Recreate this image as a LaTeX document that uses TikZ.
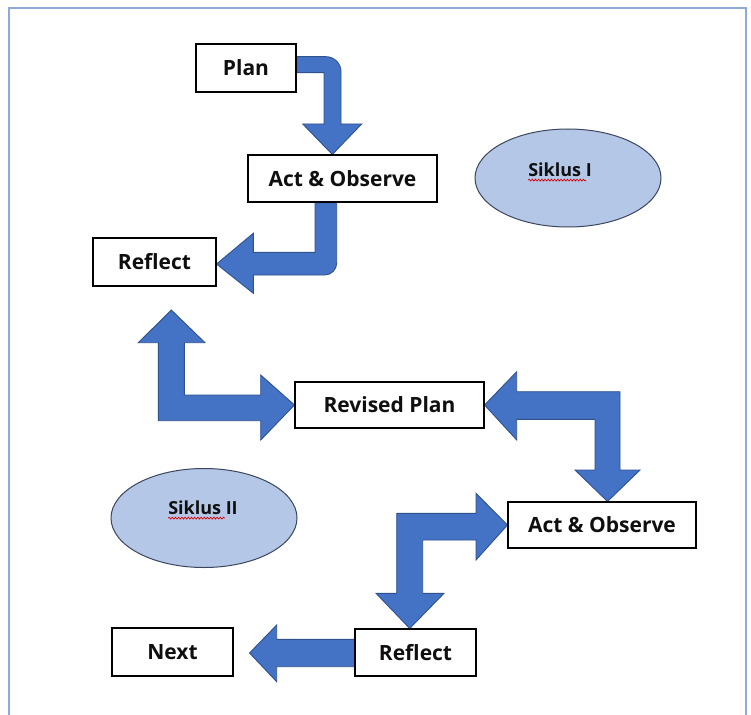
\documentclass[tikz,border=0pt]{standalone}
\usepackage{fontspec}
\setmainfont{Open Sans}
\usetikzlibrary{backgrounds,decorations.pathmorphing,calc,shapes.geometric}
\definecolor{arrowfill}{RGB}{68,114,196}
\definecolor{arrowline}{RGB}{47,82,143}
\definecolor{ellfill}{RGB}{180,199,231}
\definecolor{ellline}{RGB}{60,70,95}
\definecolor{frameblue}{RGB}{142,169,219}
\definecolor{txt}{RGB}{15,15,15}
\tikzset{
  stepbox/.style={draw=black, line width=1.1pt, fill=white, inner sep=0pt,
    font=\fontsize{21}{24}\selectfont\bfseries, text=txt},
  cyclebox/.style={ellipse, draw=ellline, line width=1pt, fill=ellfill, inner sep=0pt},
  blockarrow/.style={fill=arrowfill, draw=arrowline, line width=0.9pt, line join=miter},
  squiggle/.style={draw=red!85!black, line width=0.7pt, decorate,
    decoration={snake, amplitude=0.9pt, segment length=3.2pt}},
  cyclelabel/.style={font=\fontsize{18}{21}\selectfont\bfseries, text=txt, inner sep=0pt}
}
\begin{document}
\begin{tikzpicture}[x=1pt,y=-1pt]
\useasboundingbox (0,0) rectangle (751,714);

% boxes
\node[stepbox, minimum width=100pt, minimum height=48pt] (plan) at (246,68) {Plan};
\node[stepbox, minimum width=189pt, minimum height=47pt] (act1) at (342.5,178.5) {Act \& Observe};
\node[stepbox, minimum width=123pt, minimum height=48pt] (reflect1) at (154.5,262) {Reflect};
\node[stepbox, minimum width=189pt, minimum height=46pt] (revised) at (389.5,405) {Revised Plan};
\node[stepbox, minimum width=188pt, minimum height=46pt] (act2) at (602,525) {Act \& Observe};
\node[stepbox, minimum width=121pt, minimum height=47pt] (reflect2) at (415.5,652.5) {Reflect};
\node[stepbox, minimum width=121pt, minimum height=48pt] (next) at (172.5,652) {Next};

% cycle ellipses
\node[cyclebox, minimum width=186pt, minimum height=98pt] (s1) at (568,178) {};
\node[cyclelabel] (s1t) at (560,170) {Siklus I};
\draw[squiggle] (s1t.south west) ++(0,3) -- ++(58,0);
\node[cyclebox, minimum width=186pt, minimum height=99pt] (s2) at (204,518) {};
\node[cyclelabel] (s2t) at (203,508) {Siklus II};
\draw[squiggle] (s2t.south west) ++(0,3) -- ++(57,0);

\begin{scope}[on background layer]
\fill[white] (0,0) rectangle (751,714);
\draw[frameblue, line width=2pt] (9,716) -- (9,8) -- (746,8) -- (746,716);
% Plan -> Act & Observe
\draw[blockarrow] (plan.east |- 0,56.7) -- (326,56.7)
  .. controls (334.3,56.7) and (341,63.4) .. (341,71.7)
  -- (341,124) -- (361.7,124) -- (act1.north -| 332.3,0) -- (302.7,124) -- (324,124)
  -- (324,72.7) -- (plan.east |- 0,72.7) -- cycle;
% Act & Observe -> Reflect
\draw[blockarrow] (act1.south -| 315,0) -- (act1.south -| 336.7,0) -- (336.7,263)
  .. controls (336.7,269.6) and (331.3,275) .. (324.7,275)
  -- (253.3,275) -- (253.3,293.3) -- (reflect1.east |- 0,264) -- (253.3,233.3)
  -- (253.3,252.3) -- (315,252.3) -- cycle;
% Reflect <-> Revised Plan
\draw[blockarrow] (171.3,310) -- (205,342.7) -- (184.3,342.7) -- (184.3,395)
  -- (260.7,395) -- (260.7,375) -- (revised.west) -- (260.7,440) -- (260.7,420.7)
  -- (158.3,420.7) -- (158.3,342.7) -- (138.3,342.7) -- cycle;
% Revised Plan <-> Act & Observe
\draw[blockarrow] (revised.east) -- (516.7,371.7) -- (516.7,391.7) -- (620,391.7)
  -- (620,470) -- (640,470) -- (act2.north -| 607.5,0) -- (575,470) -- (595,470)
  -- (595,419.3) -- (516.7,419.3) -- (516.7,440) -- cycle;
% Act & Observe <-> Reflect
\draw[blockarrow] (act2.west) -- (476,560) -- (476,540) -- (422.7,540) -- (422.7,593.3)
  -- (444,593.3) -- (reflect2.north -| 409.7,0) -- (376,593.3) -- (396.7,593.3)
  -- (396.7,513.3) -- (476,513.3) -- (476,493.3) -- cycle;
% Reflect -> Next
\draw[blockarrow] (reflect2.west |- 0,639.3) -- (276.7,639.3) -- (276.7,625)
  -- ($(next.east)+(16,1)$) -- (276.7,681.7) -- (276.7,666.7)
  -- (reflect2.west |- 0,666.7) -- cycle;
\end{scope}
\end{tikzpicture}
\end{document}
